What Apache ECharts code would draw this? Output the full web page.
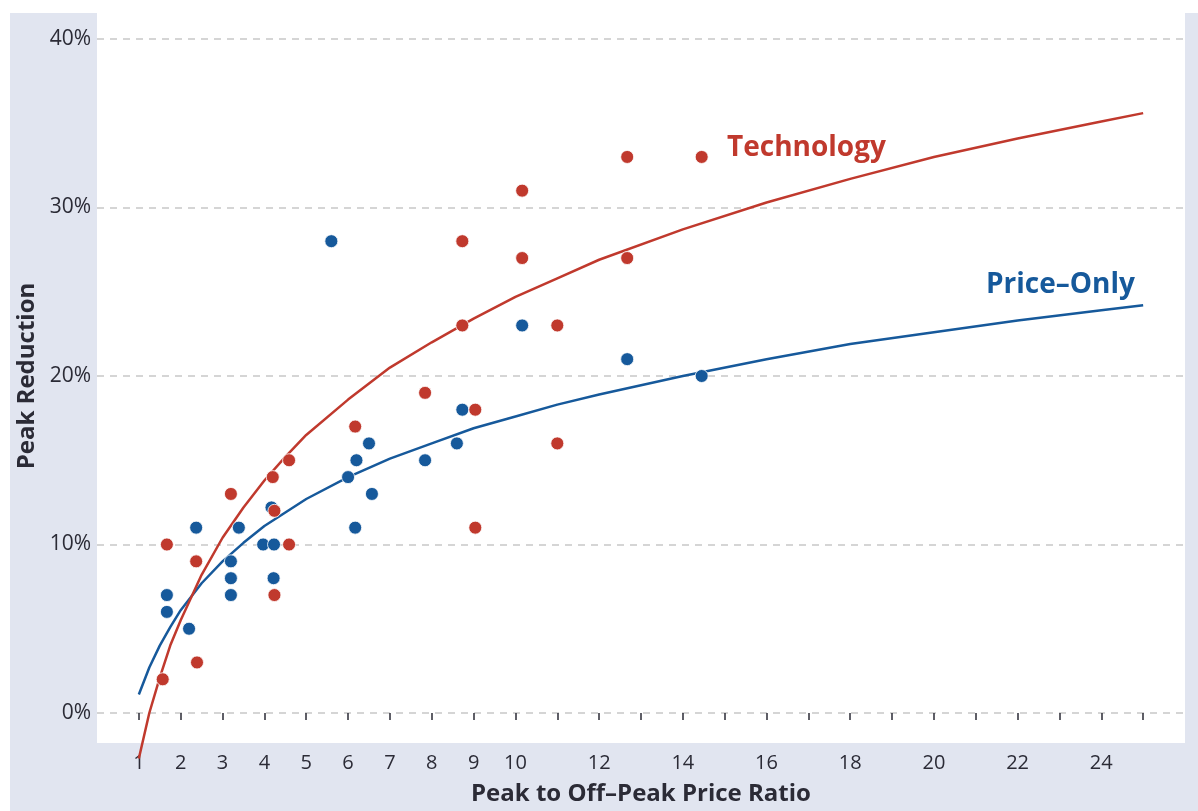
<!DOCTYPE html>
<html>
<head>
<meta charset="utf-8">
<script src="https://cdn.jsdelivr.net/npm/echarts@6/dist/echarts.min.js"></script>
<style>
html,body{margin:0;padding:0;background:#fff;}
#chart{width:1198px;height:811px;}
</style>
</head>
<body>
<div id="chart"></div>
<script>
// ---- data ----
const xTickValues = [1,2,3,4,5,6,7,8,9,10,11,12,13,14,15,16,17,18,19,20,21,22,23,24,25];
const xLabelValues = [1,2,3,4,5,6,7,8,9,10,12,14,16,18,20,22,24];
const yTickLabels = ['0%','10%','20%','30%','40%'];

// scatter points [price ratio, peak reduction %]
const technologyPoints = [
  [1.57,2],[1.67,10],[2.37,9],[2.39,3],[3.2,13],[4.2,14],[4.24,12],[4.24,7],
  [4.59,15],[4.59,10],[6.17,17],[7.84,19],[8.73,28],[8.73,23],[9.04,18],[9.04,11],
  [10.16,31],[10.16,27],[11.0,23],[11.0,16],[12.67,33],[12.67,27],[14.45,33]
];
const priceOnlyPoints = [
  [1.67,7],[1.67,6],[2.2,5],[2.37,11],[3.2,9],[3.2,8],[3.2,7],[3.39,11],
  [3.97,10],[4.23,10],[4.22,8],[4.17,12.2],[5.6,28],[6.0,14],[6.2,15],[6.17,11],
  [6.5,16],[6.57,13],[7.84,15],[8.6,16],[8.73,18],[10.16,23],[12.67,21],[14.45,20]
];

// fitted curves at these ratios
const curveX = [1,1.25,1.5,1.75,2,2.5,3,3.5,4,4.5,5,6,7,8,9,10,11,12,14,16,18,20,22,24,25];
const technologyCurve = [-2.7,0.0,2.1,4.0,5.5,8.2,10.4,12.2,13.8,15.2,16.5,18.6,20.5,22.0,23.4,24.7,25.8,26.9,28.7,30.3,31.7,33.0,34.1,35.1,35.6];
const priceOnlyCurve = [1.1,2.7,4.0,5.1,6.1,7.7,9.0,10.1,11.1,11.9,12.7,14.0,15.1,16.0,16.9,17.6,18.3,18.9,20.0,21.0,21.9,22.6,23.3,23.9,24.2];

const RED = '#c0392d';
const BLUE = '#16599b';
const INK = '#2b2b36';
const FONT = 'Open Sans';

const chart = echarts.init(document.getElementById('chart'), null, {renderer:'canvas'});
const zip = (xs, ys) => xs.map((x,i)=>[x, ys[i]]);

chart.setOption({
  animation:false,
  backgroundColor:'#fff',
  textStyle:{fontFamily:FONT},
  graphic:[
    {type:'rect', z:-20, silent:true, shape:{x:10,y:13,width:1188,height:798}, style:{fill:'#e1e5f0'}},
    {type:'rect', z:-10, silent:true, shape:{x:97,y:0,width:1088,height:743}, style:{fill:'#ffffff'}},
    {type:'text', x:727, y:148, z:50, style:{text:'Technology', fill:RED, font:'bold 28px "'+FONT+'"', verticalAlign:'middle'}},
    {type:'text', x:986, y:285, z:50, style:{text:'Price\u2013Only', fill:BLUE, font:'bold 28px "'+FONT+'"', verticalAlign:'middle'}}
  ],
  grid:{left:97, right:13, top:39, bottom:97, containLabel:false},
  xAxis:{
    type:'value', min:0, max:26, offset:31,
    name:'Peak to Off\u2013Peak Price Ratio', nameLocation:'middle', nameGap:38,
    nameTextStyle:{fontFamily:FONT, fontWeight:'bold', fontSize:24, color:INK},
    axisLine:{show:false},
    axisTick:{show:true, length:7, lineStyle:{color:INK, width:1.5}, customValues:xTickValues},
    axisLabel:{show:true, customValues:xLabelValues, margin:9, fontSize:20, color:INK, fontFamily:FONT},
    splitLine:{show:false}
  },
  yAxis:{
    type:'value', min:0, max:40, interval:10,
    name:'Peak Reduction', nameLocation:'middle', nameGap:58, nameRotate:90,
    nameTextStyle:{fontFamily:FONT, fontWeight:'bold', fontSize:24, color:INK},
    axisLine:{show:false}, axisTick:{show:false},
    axisLabel:{margin:6, fontSize:21, color:INK, fontFamily:FONT,
      formatter:(v)=>yTickLabels[Math.round(v/10)] || ''},
    splitLine:{show:true, lineStyle:{color:'#c8c8c8', width:1.5, type:[7,6]}}
  },
  series:[
    {type:'line', name:'Price-Only fit', data:zip(curveX, priceOnlyCurve), smooth:false,
     showSymbol:false, clip:false, lineStyle:{color:BLUE, width:2.5}, z:3},
    {type:'line', name:'Technology fit', data:zip(curveX, technologyCurve), smooth:false,
     showSymbol:false, clip:false, lineStyle:{color:RED, width:2.5}, z:3},
    {type:'scatter', name:'Price-Only', data:priceOnlyPoints, symbolSize:13,
     itemStyle:{color:BLUE, borderColor:'#fff', borderWidth:0.8, opacity:1}, z:5},
    {type:'scatter', name:'Technology', data:technologyPoints, symbolSize:13,
     itemStyle:{color:RED, borderColor:'#fff', borderWidth:0.8, opacity:1}, z:6}
  ]
});
</script>
</body>
</html>
